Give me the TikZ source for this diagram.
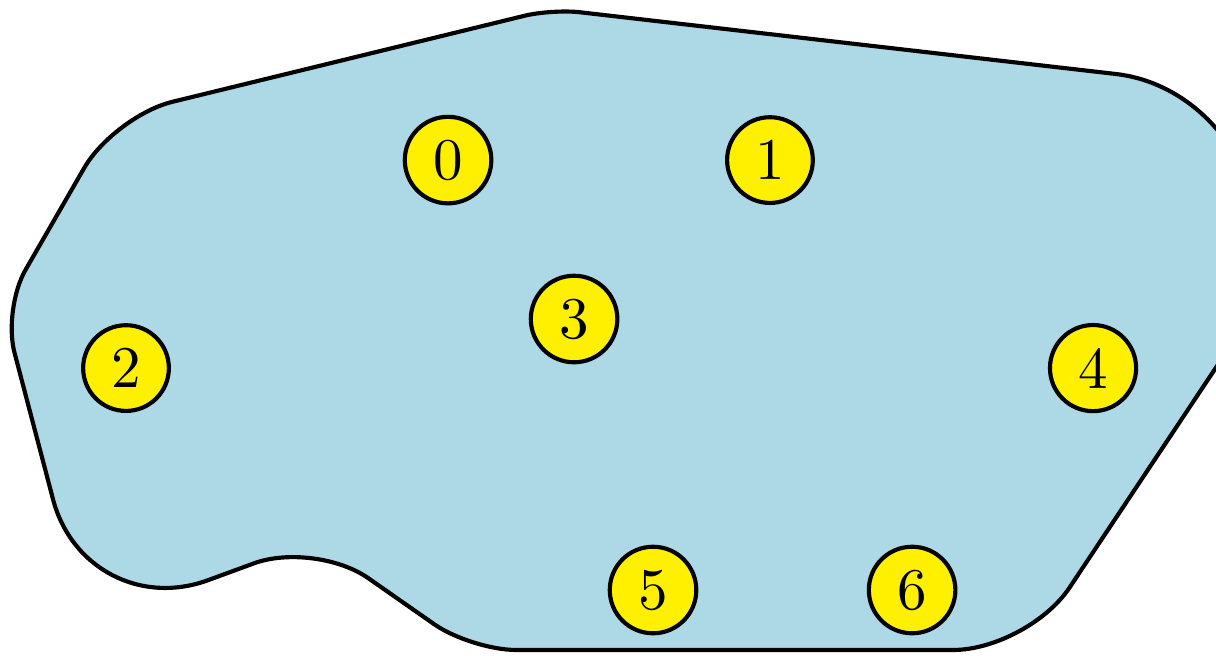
\documentclass[tikz,border=0pt]{standalone}
\usepackage{tikz}
\definecolor{blobblue}{HTML}{ADD8E6}
\definecolor{nodeyellow}{HTML}{FFF000}

\begin{document}
\begin{tikzpicture}[
        vertex/.style={circle, draw, fill=nodeyellow, inner sep=2.2pt, line width=0.7pt},
        region/.style={draw, fill=blobblue, line width=0.7pt}]
    \useasboundingbox (0,0) rectangle (7.238,3.899);
    % the region around the vertices
    \draw[region] (4.167,0.030)
        [rounded corners=0.268cm] -- (2.804,0.030)
        [rounded corners=0.387cm] -- (1.875,0.679)
        [rounded corners=0.774cm] -- (0.512,0.179)
        [rounded corners=0.268cm] -- (0.018,2.060)
        [rounded corners=0.357cm] -- (0.679,3.208)
        [rounded corners=0.167cm] -- (3.286,3.845)
        [rounded corners=0.833cm] -- (7.470,3.363)
        [rounded corners=0.357cm] -- (7.470,2.060)
        [rounded corners=0.446cm] -- (6.119,0.030)
        -- cycle;
    % vertices
    \node[vertex] (v0) at (2.667,2.946) {0};
    \node[vertex] (v1) at (4.583,2.946) {1};
    \node[vertex] (v2) at (0.750,1.708) {2};
    \node[vertex] (v3) at (3.417,2.000) {3};
    \node[vertex] (v4) at (6.506,1.708) {4};
    \node[vertex] (v5) at (3.887,0.387) {5};
    \node[vertex] (v6) at (5.429,0.387) {6};
\end{tikzpicture}
\end{document}
